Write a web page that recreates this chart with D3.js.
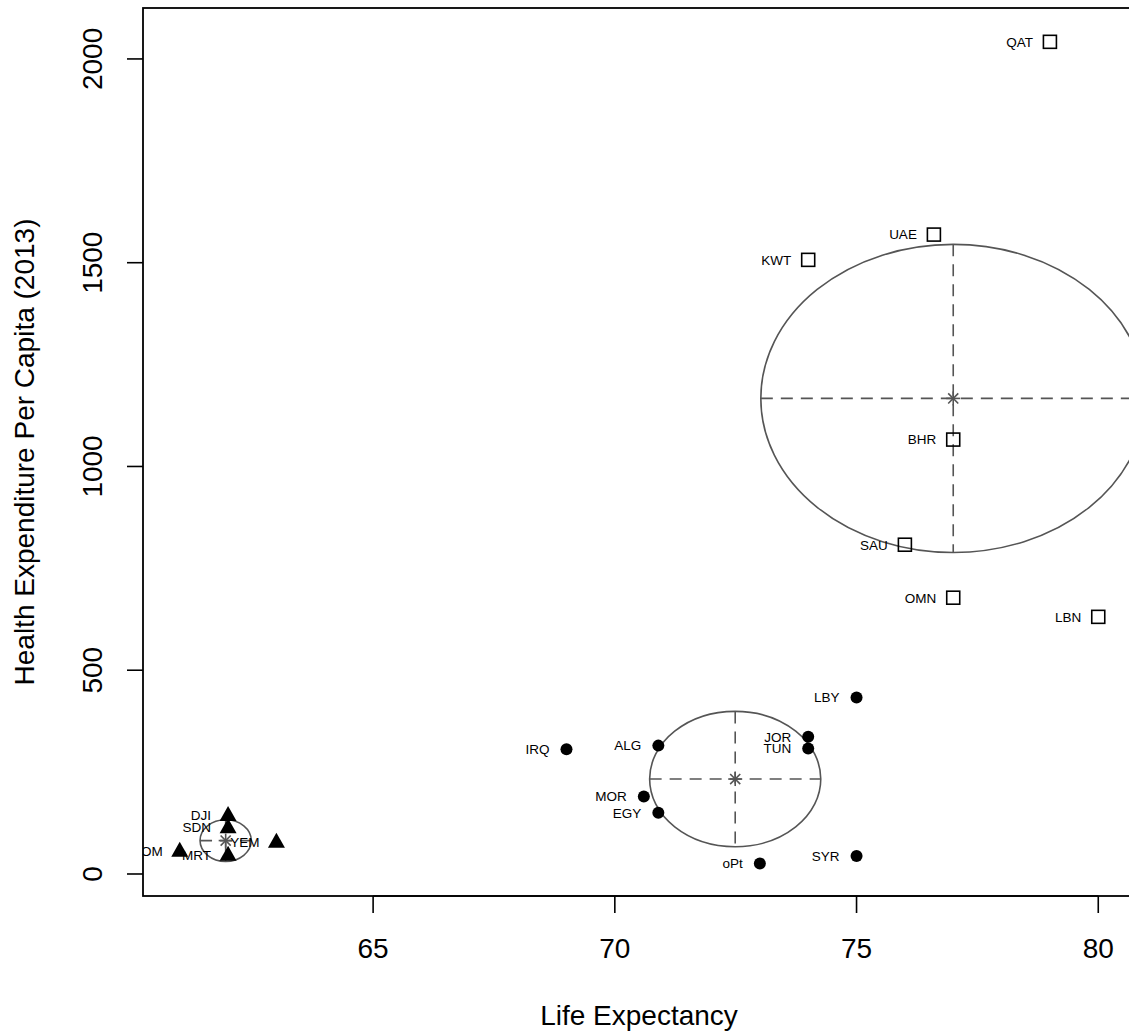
<!DOCTYPE html>
<html>
<head>
<meta charset="utf-8">
<script src="https://cdn.jsdelivr.net/npm/d3@7/dist/d3.min.js"></script>
<style>
  html, body { margin: 0; padding: 0; background: #fff; }
  svg { display: block; font-family: "Liberation Sans", Arial, Helvetica, sans-serif; }
</style>
</head>
<body>
<svg id="chart" width="1129" height="1033"></svg>
<script>
// ---- data ----
const countries = ["DJI","SDN","YEM","MRT","SOM",
                   "IRQ","ALG","JOR","TUN","MOR","EGY","LBY","SYR","oPt",
                   "QAT","UAE","KWT","BHR","SAU","OMN","LBN"];
const lifeExpectancy = [62.0, 62.0, 63.0, 62.0, 61.0,
                        69.0, 70.9, 74.0, 74.0, 70.6, 70.9, 75.0, 75.0, 73.0,
                        79.0, 76.6, 74.0, 77.0, 76.0, 77.0, 80.0];
const healthExpenditure = [145, 115, 79, 47, 57,
                           306, 315, 337, 308, 190, 150, 433, 44, 26,
                           2042, 1569, 1507, 1066, 808, 678, 631];
const groups = [1,1,1,1,1,
                2,2,2,2,2,2,2,2,2,
                3,3,3,3,3,3,3];
// cluster ellipses: centre and half-axes (data units)
const ellipseGroup = [1, 2, 3];
const ellipseCx = [61.95, 72.49, 77.0];
const ellipseCy = [82, 233, 1167];
const ellipseRx = [0.53, 1.77, 3.98];
const ellipseRy = [51, 166, 378];
const xTicks = [65, 70, 75, 80];
const yTicks = [0, 500, 1000, 1500, 2000];
const xTitle = "Life Expectancy";
const yTitle = "Health Expenditure Per Capita (2013)";

// ---- layout ----
const pL = 143, pT = 8, pR = 1135, pB = 896;
const svg = d3.select("#chart");
const x = d3.scaleLinear().domain([60.24, 80.76]).range([pL, pR]);
const y = d3.scaleLinear().domain([-54, 2125]).range([pB, pT]);

svg.append("defs").append("clipPath").attr("id", "plotclip")
  .append("rect").attr("x", pL).attr("y", pT)
  .attr("width", pR - pL).attr("height", pB - pT);

const plot = svg.append("g").attr("clip-path", "url(#plotclip)");
const grey = "#555";

// ellipses
const ell = ellipseGroup.map((g, i) => ({
  cx: ellipseCx[i], cy: ellipseCy[i], rx: ellipseRx[i], ry: ellipseRy[i]
}));
ell.forEach(e => {
  const cx = x(e.cx), cy = y(e.cy);
  const rx = x(e.cx + e.rx) - cx, ry = cy - y(e.cy + e.ry);
  plot.append("ellipse").attr("cx", cx).attr("cy", cy).attr("rx", rx).attr("ry", ry)
    .attr("fill", "none").attr("stroke", grey).attr("stroke-width", 1.6);
  plot.append("line").attr("x1", cx - rx).attr("x2", cx + rx).attr("y1", cy).attr("y2", cy)
    .attr("stroke", grey).attr("stroke-width", 1.6).attr("stroke-dasharray", "12,8");
  plot.append("line").attr("x1", cx).attr("x2", cx).attr("y1", cy - ry).attr("y2", cy + ry)
    .attr("stroke", grey).attr("stroke-width", 1.6).attr("stroke-dasharray", "12,8");
  const s = 7;
  const star = plot.append("g").attr("stroke", grey).attr("stroke-width", 1.6);
  star.append("line").attr("x1", cx - s).attr("x2", cx + s).attr("y1", cy).attr("y2", cy);
  star.append("line").attr("x1", cx).attr("x2", cx).attr("y1", cy - s).attr("y2", cy + s);
  star.append("line").attr("x1", cx - s*0.72).attr("x2", cx + s*0.72).attr("y1", cy - s*0.72).attr("y2", cy + s*0.72);
  star.append("line").attr("x1", cx - s*0.72).attr("x2", cx + s*0.72).attr("y1", cy + s*0.72).attr("y2", cy - s*0.72);
});

// points
const pts = countries.map((c, i) => ({ c, lx: lifeExpectancy[i], hy: healthExpenditure[i], g: groups[i] }));
pts.forEach(p => {
  const px = x(p.lx), py = y(p.hy);
  if (p.g === 1) {
    plot.append("path")
      .attr("d", `M${px},${py - 9} L${px + 8.5},${py + 6} L${px - 8.5},${py + 6} Z`)
      .attr("fill", "#000");
  } else if (p.g === 2) {
    plot.append("circle").attr("cx", px).attr("cy", py).attr("r", 6).attr("fill", "#000");
  } else {
    plot.append("rect").attr("x", px - 6.5).attr("y", py - 6.5).attr("width", 13).attr("height", 13)
      .attr("fill", "none").attr("stroke", "#000").attr("stroke-width", 1.6);
  }
  plot.append("text").attr("x", px - 17).attr("y", py).attr("dy", "0.36em")
    .attr("text-anchor", "end").attr("font-size", 13.5).attr("fill", "#000").text(p.c);
});

// box
svg.append("rect").attr("x", pL).attr("y", pT).attr("width", pR - pL).attr("height", pB - pT)
  .attr("fill", "none").attr("stroke", "#000").attr("stroke-width", 1.8);

// x axis
const xa = svg.append("g");
xa.append("line").attr("x1", x(xTicks[0])).attr("x2", x(xTicks[xTicks.length - 1]))
  .attr("y1", pB).attr("y2", pB).attr("stroke", "#000").attr("stroke-width", 1.6);
xTicks.forEach(t => {
  xa.append("line").attr("x1", x(t)).attr("x2", x(t)).attr("y1", pB).attr("y2", pB + 17)
    .attr("stroke", "#000").attr("stroke-width", 1.6);
  xa.append("text").attr("x", x(t)).attr("y", 958).attr("text-anchor", "middle")
    .attr("font-size", 28).text(t);
});
svg.append("text").attr("x", (pL + pR) / 2).attr("y", 1025).attr("text-anchor", "middle")
  .attr("font-size", 28).text(xTitle);

// y axis
const ya = svg.append("g");
yTicks.forEach(t => {
  ya.append("line").attr("x1", pL - 16).attr("x2", pL).attr("y1", y(t)).attr("y2", y(t))
    .attr("stroke", "#000").attr("stroke-width", 1.6);
  ya.append("text").attr("transform", `translate(102,${y(t)}) rotate(-90)`)
    .attr("text-anchor", "middle").attr("font-size", 28).text(t);
});
svg.append("text").attr("transform", `translate(34,${(pT + pB) / 2}) rotate(-90)`)
  .attr("text-anchor", "middle").attr("font-size", 28).text(yTitle);
</script>
</body>
</html>
